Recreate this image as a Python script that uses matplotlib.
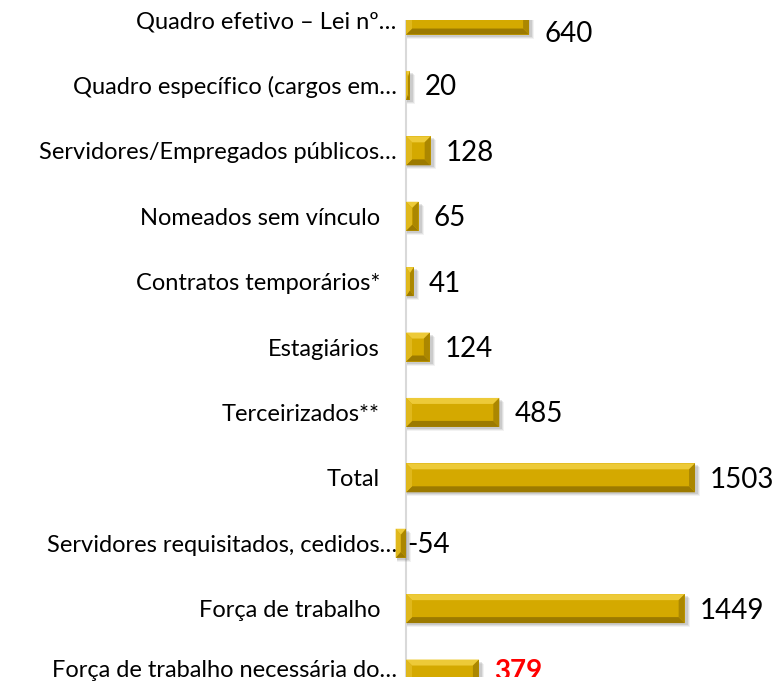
import matplotlib
matplotlib.use("Agg")
import matplotlib.pyplot as plt
from matplotlib.patches import Polygon, Rectangle
from matplotlib.transforms import ScaledTranslation

plt.rcParams["font.family"] = ["Lato", "DejaVu Sans"]

categories = [
    "Quadro efetivo – Lei nº…",
    "Quadro específico (cargos em…",
    "Servidores/Empregados públicos…",
    "Nomeados sem vínculo",
    "Contratos temporários*",
    "Estagiários",
    "Terceirizados**",
    "Total",
    "Servidores requisitados, cedidos…",
    "Força de trabalho",
    "Força de trabalho necessária do…",
]
values = [640, 20, 128, 65, 41, 124, 485, 1503, -54, 1449, 379]

FACE = "#d4a900"
LIGHT = "#edca38"
LEFTC = "#e0b81c"
DARK = "#9c7a00"
RIGHTC = "#ab8700"

fig = plt.figure(figsize=(7.77, 6.84), dpi=100)
ax = fig.add_axes([0.502, 0.0102, 0.498, 0.9605])
ax.set_xlim(-83.2, 1929.3)
ax.set_ylim(10.046, 0.015)
for s in ax.spines.values():
    s.set_visible(False)
ax.set_xticks([])
ax.axvline(0, color="#d9d9d9", lw=1.5, zorder=1)

# pixel -> data conversion for bevel / shadow sizes
xpp = (ax.get_xlim()[1] - ax.get_xlim()[0]) / ax.bbox.width
ypp = (ax.get_ylim()[0] - ax.get_ylim()[1]) / ax.bbox.height

h = 0.443
for i, v in enumerate(values):
    x0, x1 = min(0, v), max(0, v)
    yt, yb = i - h / 2, i + h / 2
    # soft shadow
    for k, a in [(4, 0.08), (3, 0.12), (2, 0.16)]:
        ax.add_patch(Rectangle((x0 + 1 * xpp, yt + k * ypp), x1 - x0 + k * xpp, h,
                               color="#606060", alpha=a, lw=0, zorder=2))
    ax.barh(i, v, height=h, color=FACE, zorder=3)
    wpx = (x1 - x0) / xpp
    dx = min(6, wpx / 2) * xpp
    dy = 6 * ypp
    ax.add_patch(Polygon([(x0, yt), (x1, yt), (x1 - dx, yt + dy), (x0 + dx, yt + dy)],
                         color=LIGHT, lw=0, zorder=4))
    ax.add_patch(Polygon([(x0, yb), (x1, yb), (x1 - dx, yb - dy), (x0 + dx, yb - dy)],
                         color=DARK, lw=0, zorder=4))
    ax.add_patch(Polygon([(x0, yt), (x0 + dx, yt + dy), (x0 + dx, yb - dy), (x0, yb)],
                         color=LEFTC, lw=0, zorder=4))
    ax.add_patch(Polygon([(x1, yt), (x1 - dx, yt + dy), (x1 - dx, yb - dy), (x1, yb)],
                         color=RIGHTC, lw=0, zorder=4))

    # value labels, kept inside the plot area vertically
    ylab = min(max(i, 0.015 + 0.17), 10.046 - 0.1) + 0.03
    off = 15 * xpp if v > 0 else 1 * xpp
    last = i == len(values) - 1
    ax.text(max(v, 0) + off, ylab, str(v), va="center", ha="left",
            fontsize=20, color="#ff0000" if last else "black",
            fontweight="bold" if last else "normal", clip_on=last, zorder=5)

ax.set_yticks(range(len(categories)))
ax.set_yticklabels(categories, fontsize=17)
ax.tick_params(axis="y", length=0, pad=7.2)
labs = ax.get_yticklabels()
for lab in labs:
    if lab.get_text().endswith("…"):
        lab.set_transform(lab.get_transform() + ScaledTranslation(12 / 72, 0, fig.dpi_scale_trans))
# bottom label nudged up so it stays inside the figure
labs[-1].set_transform(labs[-1].get_transform() + ScaledTranslation(0, 0.06, fig.dpi_scale_trans))

fig.savefig("out.png", dpi=100)
